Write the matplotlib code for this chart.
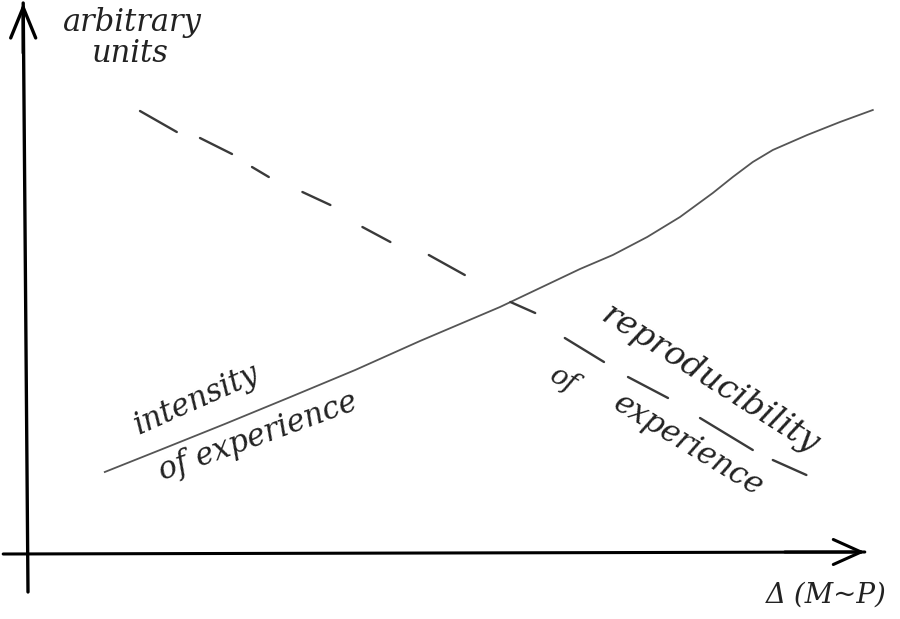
# plot.py
#
# Purpose: redraw the hand sketch of intensity vs reproducibility
#   of experience against delta (M~P), arbitrary units
#
# Output: out.png

# # # # # #
# SETUP: Start

# imports
import matplotlib
matplotlib.use("Agg")
import matplotlib.pyplot as plt

# intensity of experience (solid curve)
intensity_x = [0.96, 1.65, 2.46, 3.28, 4.09, 4.90, 5.90, 6.90, 7.31, 7.74,
               8.15, 8.56, 8.81, 9.06, 9.31, 9.74, 10.15, 10.56]
intensity_y = [1.64, 2.08, 2.60, 3.14, 3.68, 4.26, 4.94, 5.70, 5.98, 6.34,
               6.74, 7.22, 7.54, 7.84, 8.08, 8.38, 8.64, 8.88]

# reproducibility of experience (hand drawn dashes), start/end of each dash
repro_x0 = [1.40, 2.15, 2.80, 3.43, 4.18, 5.01, 6.03, 6.71, 7.50, 8.40, 9.31]
repro_x1 = [1.86, 2.55, 3.01, 3.78, 4.53, 5.46, 6.34, 7.20, 8.00, 9.06, 9.73]
repro_y0 = [8.86, 8.32, 7.74, 7.24, 6.54, 5.98, 5.04, 4.32, 3.54, 2.72, 1.88]
repro_y1 = [8.44, 8.00, 7.54, 6.98, 6.24, 5.58, 4.82, 3.84, 3.12, 2.08, 1.58]

# axis extents (they run a bit past the origin in the sketch)
yaxis_x = [0.0, -0.06]
yaxis_y = [-0.76, 11.02]
xaxis_x = [-0.31, 10.46]
xaxis_y = [0.0, 0.04]

# labels
ylabel_lines = ["arbitrary", "units"]
xlabel = "\u0394 (M~P)"
intensity_label = ["intensity", "of experience"]
repro_label = ["reproducibility", "of", "experience"]

# SETUP: End
# # # # # #

# # # # # #
# MAIN: Start

fig = plt.figure(figsize=(9, 6.19), dpi=100)
ax = fig.add_axes([0, 0, 1, 1])
ax.set_xlim(-0.35, 10.9)
ax.set_ylim(-1.3, 11.08)
ax.axis("off")

# the two axes with open arrow heads
ax.plot(yaxis_x, yaxis_y, color="black", lw=2.4, solid_capstyle="round")
ax.plot(xaxis_x, xaxis_y, color="black", lw=2.2, solid_capstyle="round")
ax.annotate("", xy=(yaxis_x[1], yaxis_y[1]), xytext=(yaxis_x[1], yaxis_y[1] - 1),
            arrowprops=dict(arrowstyle="->, head_length=1.1, head_width=0.45",
                            lw=2.4, color="black", mutation_scale=20,
                            shrinkA=0, shrinkB=0))
ax.annotate("", xy=(xaxis_x[1], xaxis_y[1]), xytext=(xaxis_x[1] - 1, xaxis_y[1]),
            arrowprops=dict(arrowstyle="->, head_length=1.0, head_width=0.45",
                            lw=2.2, color="black", mutation_scale=20,
                            shrinkA=0, shrinkB=0))

# intensity curve
ax.plot(intensity_x, intensity_y, color="#555555", lw=1.3)

# reproducibility dashes
for i in range(len(repro_x0)):
    ax.plot([repro_x0[i], repro_x1[i]], [repro_y0[i], repro_y1[i]],
            color="#3a3a3a", lw=1.7, solid_capstyle="round")

# text, kept loose like the handwriting
hand = dict(family="DejaVu Serif", style="italic", color="#222222")
ax.text(1.31, 10.64, ylabel_lines[0], fontsize=22, ha="center", va="center", **hand)
ax.text(1.28, 10.02, ylabel_lines[1], fontsize=22, ha="center", va="center", **hand)
ax.text(9.98, -0.82, xlabel, fontsize=20, ha="center", va="center", **hand)

ax.text(2.11, 3.08, intensity_label[0], fontsize=22, rotation=24,
        ha="center", va="center", rotation_mode="anchor", **hand)
ax.text(2.88, 2.34, intensity_label[1], fontsize=22, rotation=20,
        ha="center", va="center", rotation_mode="anchor", **hand)

ax.text(8.52, 3.48, repro_label[0], fontsize=24, rotation=-32.5,
        ha="center", va="center", rotation_mode="anchor", **hand)
ax.text(6.69, 3.48, repro_label[1], fontsize=20, rotation=-30,
        ha="center", va="center", rotation_mode="anchor", **hand)
ax.text(8.25, 2.18, repro_label[2], fontsize=22, rotation=-31.5,
        ha="center", va="center", rotation_mode="anchor", **hand)

plt.savefig("out.png", dpi=100, facecolor="white")
print("Writing graph to out.png")

# MAIN: End
# # # # # #
